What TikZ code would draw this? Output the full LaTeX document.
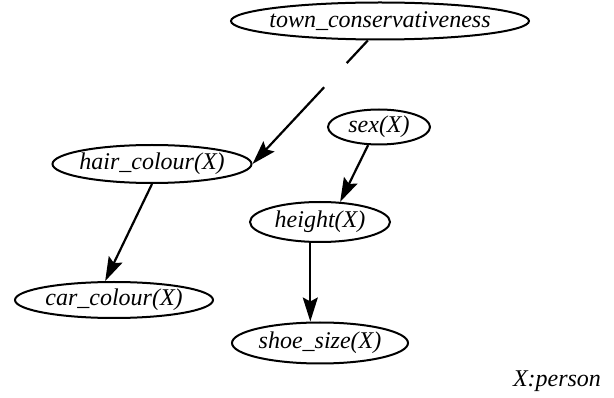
\documentclass[tikz,border=0pt]{standalone}
\usepackage{fontspec}
\setmainfont{Liberation Serif}
\usepackage{tikz}
\usetikzlibrary{shapes,arrows,positioning,calc,arrows.meta}

\tikzset{
    var/.style={ellipse, draw, line width=2pt, inner sep=0pt,
        font=\fontsize{24}{28}\selectfont\itshape},
    dep/.style={line width=2.2pt, -{Stealth[length=24pt,width=15pt,inset=4pt]}}
}
\newcommand{\lab}[1]{\makebox[0pt]{#1}}

\begin{document}
\begin{tikzpicture}[x=1pt, y=-1pt]
    \useasboundingbox (0,0) rectangle (614,398);
    % nodes
    \node[var, minimum width=298pt, minimum height=37pt] (town) at (380,21) {\lab{town\_conservativeness}};
    \node[var, minimum width=102pt, minimum height=35pt] (sex) at (379,127) {\lab{sex(X)}};
    \node[var, minimum width=199pt, minimum height=38pt] (hair) at (152,164) {\lab{hair\_colour(X)}};
    \node[var, minimum width=140pt, minimum height=40pt] (height) at (320,222) {\lab{height(X)}};
    \node[var, minimum width=198pt, minimum height=36pt] (car) at (114,300) {\lab{car\_colour(X)}};
    \node[var, minimum width=176pt, minimum height=41pt] (shoe) at (320,343) {\lab{shoe\_size(X)}};
    \node[font=\fontsize{24}{28}\selectfont\itshape] (type) at (557,381) {X:person};
    % edges
    \draw[dep, dash pattern=on 31pt off 33pt on 300pt] (town.-122) -- (hair.east);
    \draw[dep] (hair.south) -- (car.115);
    \draw[dep] (sex.-121) -- (height.45);
    \draw[dep] (height.-115) -- (height.-115 |- shoe.north);
\end{tikzpicture}
\end{document}
